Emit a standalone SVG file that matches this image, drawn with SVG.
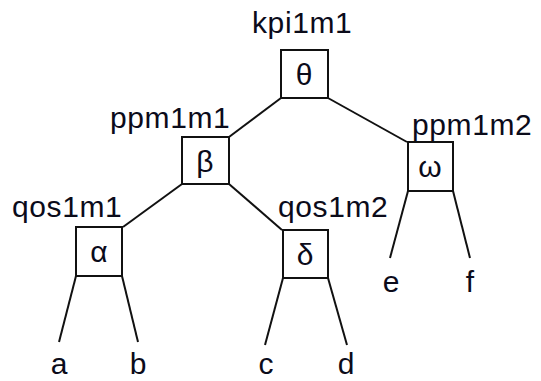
<svg xmlns="http://www.w3.org/2000/svg" width="541" height="381" viewBox="0 0 541 381">
  <style>
    .box { fill: #ffffff; stroke: #111111; stroke-width: 2; }
    .edge { stroke: #111111; stroke-width: 2; fill: none; stroke-linecap: butt; }
    text { font-family: "Liberation Sans", Arial, sans-serif; font-size: 30px; fill: #0b0b1a; }
    .name { letter-spacing: 0.6px; }
    .mid { text-anchor: middle; }
  </style>
  <rect width="541" height="381" fill="#ffffff"/>

  <g id="connectors">
    <line class="edge" x1="281" y1="98" x2="229" y2="137"/>
    <line class="edge" x1="328" y1="98" x2="407" y2="142"/>
    <line class="edge" x1="182" y1="184" x2="123" y2="227"/>
    <line class="edge" x1="229" y1="184" x2="282" y2="230"/>
    <line class="edge" x1="76" y1="276" x2="59" y2="342"/>
    <line class="edge" x1="122" y1="276" x2="138" y2="342"/>
    <line class="edge" x1="283" y1="278" x2="265" y2="345"/>
    <line class="edge" x1="328" y1="278" x2="347" y2="345"/>
    <line class="edge" x1="408" y1="191" x2="390" y2="258"/>
    <line class="edge" x1="453" y1="191" x2="470" y2="258"/>
  </g>

  <g id="kpi1m1">
    <rect class="box" x="281" y="50" width="47" height="48"/>
    <text class="mid" x="304" y="85">θ</text>
    <text class="name" x="252" y="33">kpi1m1</text>
  </g>

  <g id="ppm1m1">
    <rect class="box" x="182" y="137" width="47" height="47"/>
    <text class="mid" x="205" y="172">β</text>
    <text class="name" x="110" y="128">ppm1m1</text>
  </g>

  <g id="ppm1m2">
    <rect class="box" x="408" y="142" width="45" height="49"/>
    <text class="mid" x="430" y="177">ω</text>
    <text class="name" x="412" y="135">ppm1m2</text>
  </g>

  <g id="qos1m1">
    <rect class="box" x="76" y="227" width="46" height="49"/>
    <text class="mid" x="99" y="262">α</text>
    <text class="name" x="12" y="217">qos1m1</text>
  </g>

  <g id="qos1m2">
    <rect class="box" x="283" y="230" width="45" height="48"/>
    <text class="mid" x="305" y="265">δ</text>
    <text class="name" x="278" y="217">qos1m2</text>
  </g>

  <g id="leaves">
    <text class="mid" x="59" y="374">a</text>
    <text class="mid" x="138" y="374">b</text>
    <text class="mid" x="266" y="374">c</text>
    <text class="mid" x="346" y="374">d</text>
    <text class="mid" x="391" y="292">e</text>
    <text class="mid" x="470" y="292">f</text>
  </g>
</svg>
